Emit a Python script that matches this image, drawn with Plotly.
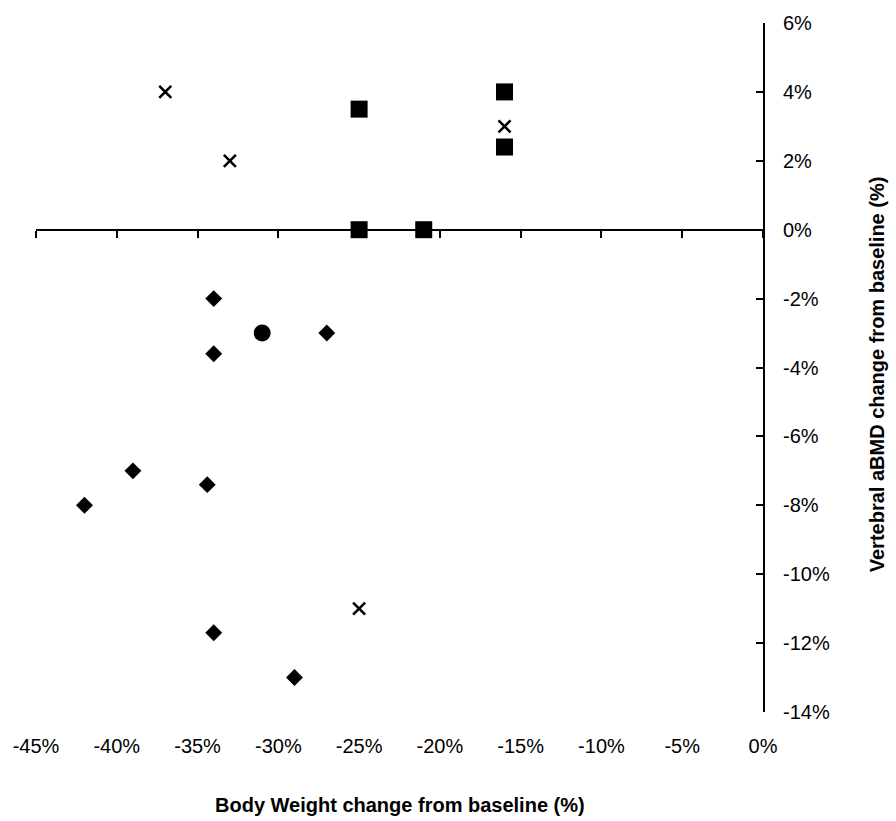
import plotly.graph_objects as go

# Data (percent change from baseline)
cross_x = [-37, -33, -16, -25]
cross_y = [4, 2, 3, -11]
square_x = [-25, -16, -16, -25, -21]
square_y = [3.5, 4, 2.4, 0, 0]
circle_x = [-31]
circle_y = [-3]
diamond_x = [-34, -27, -34, -39, -42, -34.4, -34, -29]
diamond_y = [-2, -3, -3.6, -7, -8, -7.4, -11.7, -13]

x_ticks = list(range(-45, 1, 5))
x_labels = [f"{v}%" for v in x_ticks]
y_ticks = list(range(-14, 7, 2))
y_labels = [f"{v}%" for v in y_ticks]

FONT = "Liberation Sans Narrow, Arial Narrow, Liberation Sans, Arial, sans-serif"

fig = go.Figure()
fig.add_trace(go.Scatter(x=cross_x, y=cross_y, mode="markers",
                         marker=dict(symbol="x-thin", size=12, color="black",
                                     line=dict(width=2.6, color="black")),
                         showlegend=False))
fig.add_trace(go.Scatter(x=square_x, y=square_y, mode="markers",
                         marker=dict(symbol="square", size=17, color="black"),
                         showlegend=False))
fig.add_trace(go.Scatter(x=circle_x, y=circle_y, mode="markers",
                         marker=dict(symbol="circle", size=17, color="black"),
                         showlegend=False))
fig.add_trace(go.Scatter(x=diamond_x, y=diamond_y, mode="markers",
                         marker=dict(symbol="diamond", size=13, color="black"),
                         showlegend=False))
# dummy trace to activate the x-axis drawn at y=0
fig.add_trace(go.Scatter(x=[], y=[], xaxis="x2", yaxis="y", showlegend=False,
                         hoverinfo="skip"))

fig.update_layout(
    width=896, height=821,
    margin=dict(l=36, r=133, t=19, b=109),
    paper_bgcolor="white", plot_bgcolor="white",
    font=dict(family=FONT, size=20, color="black"),
    xaxis=dict(range=[-45, 0], tickvals=x_ticks, ticktext=x_labels,
               showline=False, ticks="", showgrid=False, zeroline=False,
               ticklabelstandoff=20, tickfont=dict(family=FONT, size=20)),
    xaxis2=dict(range=[-45, 0], overlaying="x", anchor="free", position=0.7,
                side="bottom", showline=True, linewidth=2, linecolor="black",
                ticks="outside", ticklen=7, tickwidth=2, tickcolor="black",
                tickvals=x_ticks, showticklabels=False, showgrid=False,
                zeroline=False),
    yaxis=dict(range=[-14, 6], side="right", tickvals=y_ticks, ticktext=y_labels,
               showline=True, linewidth=2, linecolor="black",
               ticks="inside", ticklen=7, tickwidth=2, tickcolor="black",
               showgrid=False, zeroline=False, ticklabelstandoff=14,
               tickfont=dict(family=FONT, size=20)),
    annotations=[
        dict(text="<b>Body Weight change from baseline (%)</b>", xref="paper", yref="paper",
             x=0.5, y=-0.135, xanchor="center", yanchor="middle", showarrow=False,
             font=dict(family=FONT, size=20, color="black")),
        dict(text="<b>Vertebral aBMD change from baseline (%)</b>", xref="paper", yref="paper",
             x=1.158, y=0.49, xanchor="center", yanchor="middle", showarrow=False,
             textangle=-90, font=dict(family=FONT, size=20, color="black")),
    ],
)

fig.write_html("out.html")
